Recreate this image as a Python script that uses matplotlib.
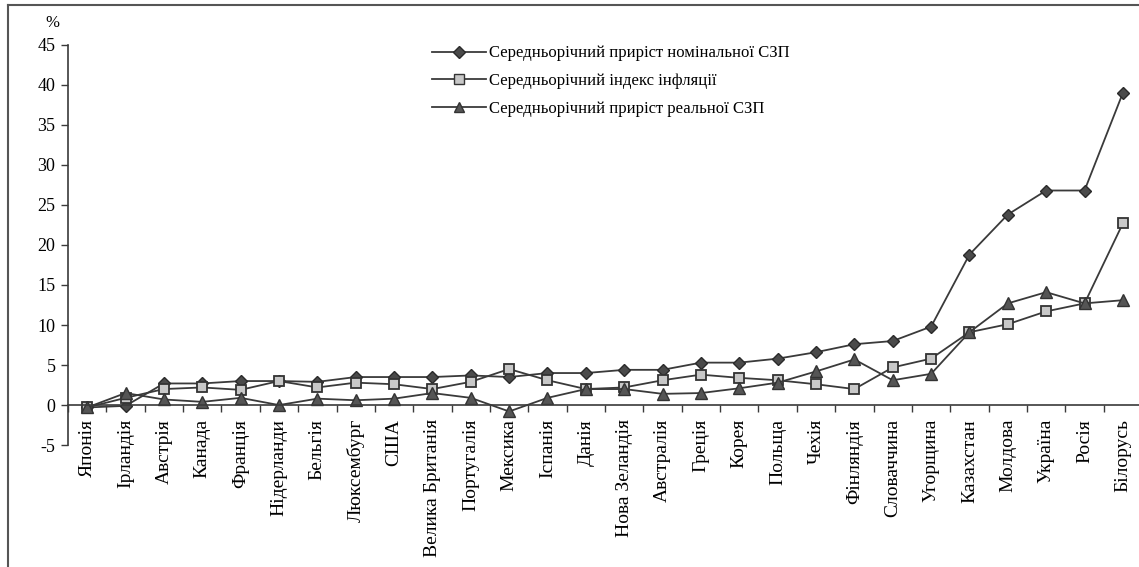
import numpy as np
import matplotlib
matplotlib.use("Agg")
import matplotlib.pyplot as plt
from matplotlib.lines import Line2D

plt.rcParams['font.family'] = ['Liberation Serif', 'DejaVu Serif']
plt.rcParams['axes.unicode_minus'] = False

# країни
krainy = ["Японія", "Ірландія", "Австрія", "Канада", "Франція", "Нідерланди",
          "Бельгія", "Люксембург", "США", "Велика Британія", "Португалія",
          "Мексика", "Іспанія", "Данія", "Нова Зеландія", "Австралія", "Греція",
          "Корея", "Польща", "Чехія", "Фінляндія", "Словаччина", "Угорщина",
          "Казахстан", "Молдова", "Україна", "Росія", "Білорусь"]

# середньорічний приріст номінальної СЗП
nominal = [-0.3, -0.1, 2.7, 2.7, 3.0, 3.0, 2.9, 3.5, 3.5, 3.5, 3.7, 3.5, 4.0, 4.0,
           4.4, 4.4, 5.3, 5.3, 5.8, 6.6, 7.6, 8.0, 9.8, 18.8, 23.8, 26.8, 26.8, 39.0]
# середньорічний індекс інфляції
inflation = [-0.3, 0.9, 2.0, 2.2, 1.9, 3.0, 2.2, 2.8, 2.6, 2.0, 2.9, 4.5, 3.1, 2.0,
             2.2, 3.1, 3.8, 3.4, 3.1, 2.6, 2.0, 4.7, 5.8, 9.1, 10.1, 11.7, 12.7, 22.7]
# середньорічний приріст реальної СЗП
real = [-0.3, 1.5, 0.7, 0.4, 0.9, 0.0, 0.8, 0.6, 0.8, 1.5, 0.9, -0.8, 0.9, 2.0,
        2.0, 1.4, 1.5, 2.1, 2.8, 4.2, 5.7, 3.1, 3.9, 9.1, 12.7, 14.1, 12.7, 13.1]

legend_labels = ["Середньорічний приріст номінальної СЗП",
                 "Середньорічний індекс інфляції",
                 "Середньорічний приріст реальної СЗП"]

fig = plt.figure(figsize=(11.39, 5.67), dpi=100)
ax = fig.add_axes([0.0597, 0.215, 0.943, 0.706])

x = np.arange(len(krainy))
lc = "#3a3a3a"
ax.plot(x, nominal, color=lc, lw=1.3, marker='D', ms=6, mfc="#4a4a4a", mec="#2a2a2a")
ax.plot(x, inflation, color=lc, lw=1.3, marker='s', ms=7.5, mfc="#c8c8c8", mec="#333333", mew=1.3)
ax.plot(x, real, color=lc, lw=1.3, marker='^', ms=8, mfc="#555555", mec="#333333")

ax.set_xlim(-0.5, len(krainy) - 0.5)
ax.set_ylim(-5, 45)
ax.set_yticks(np.arange(-5, 46, 5))
ax.tick_params(axis='y', labelsize=13, length=5, width=1, color=lc, pad=4)

ax.spines['top'].set_visible(False)
ax.spines['right'].set_visible(False)
ax.spines['bottom'].set_position(('data', 0))
ax.spines['left'].set_color(lc)
ax.spines['bottom'].set_color(lc)
ax.spines['left'].set_linewidth(1.2)
ax.spines['bottom'].set_linewidth(1.2)

ax.set_xticks(x)
ax.set_xticklabels(krainy, rotation=90, fontsize=14)
ax.tick_params(axis='x', which='major', length=0, pad=10)
ax.set_xticks(np.arange(-0.5, len(krainy), 1), minor=True)
ax.tick_params(axis='x', which='minor', length=5, width=1, color=lc, direction='out')

handles = [Line2D([], [], color=lc, lw=1.3, marker='D', ms=6, mfc="#4a4a4a", mec="#2a2a2a"),
           Line2D([], [], color=lc, lw=1.3, marker='s', ms=7, mfc="#c8c8c8", mec="#333333"),
           Line2D([], [], color=lc, lw=1.3, marker='^', ms=7, mfc="#555555", mec="#333333")]
ax.legend(handles, legend_labels, loc='upper left', bbox_to_anchor=(0.333, 1.015),
          frameon=False, fontsize=12, handlelength=3.2, handletextpad=0.2,
          labelspacing=0.7, borderaxespad=0)

fig.text(0.046, 0.96, "%", fontsize=12, ha='center', va='center')

# рамка
fig.add_artist(Line2D([0.007, 0.007], [0.0, 0.991], color="#555555", lw=1.5, transform=fig.transFigure))
fig.add_artist(Line2D([0.007, 1.0], [0.991, 0.991], color="#555555", lw=1.5, transform=fig.transFigure))

fig.savefig("out.png", dpi=100)
